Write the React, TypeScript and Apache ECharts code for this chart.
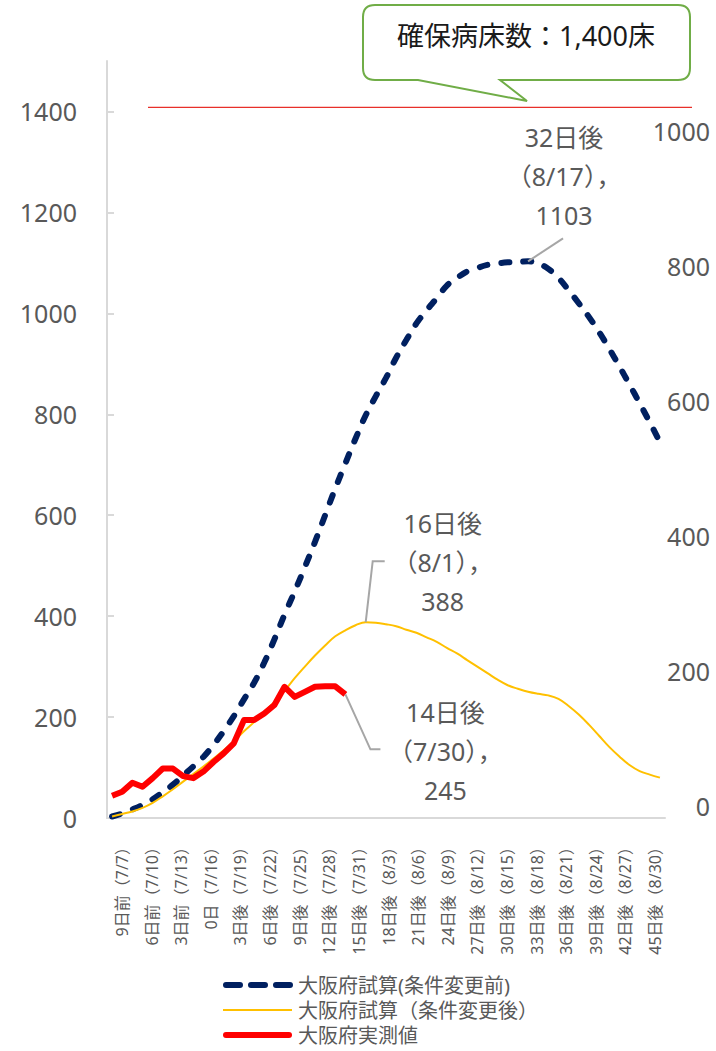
import React, { useEffect, useRef } from "react";
import * as echarts from "echarts";

const FONT = "'Noto Sans', 'Noto Sans CJK JP', sans-serif";

// Day offsets from 7/16 (0日): 9日前 (7/7) ... 45日後 (8/30)
const dayOffsets: number[] = Array.from({ length: 55 }, (_, k) => k - 9);
const dayLabels: string[] = dayOffsets.map((d) => (d < 0 ? `${-d}日前` : d === 0 ? "0日" : `${d}日後`));
const dateLabels: string[] = dayOffsets.map((d) => {
  const dt = new Date(2020, 6, 16 + d);
  return `${dt.getMonth() + 1}/${dt.getDate()}`;
});
const categories: string[] = dayLabels.map((d, i) => `${d}（${dateLabels[i]}）`);

// 大阪府試算(条件変更前)
const projectionBefore: number[] = [
  3, 9, 17, 26, 37, 51, 66, 84, 102, 121,
  145, 172, 202, 235, 268, 308, 354, 403, 449, 497,
  547, 600, 653, 703, 752, 798, 836, 872, 912, 947,
  980, 1006, 1030, 1055, 1070, 1083, 1090, 1096, 1099, 1101,
  1102, 1103, 1099, 1088, 1070, 1046, 1020, 993, 963, 930,
  895, 859, 822, 784, 745,
];
// 大阪府試算（条件変更後）
const projectionAfter: number[] = [
  3, 8, 13, 20, 30, 43, 57, 72, 87, 102,
  118, 134, 152, 172, 190, 210, 230, 252, 277, 300,
  322, 342, 360, 372, 382, 388, 387, 384, 380, 373,
  367, 358, 349, 337, 326, 313, 300, 287, 274, 263,
  256, 250, 246, 243, 236, 222, 205, 185, 163, 141,
  122, 105, 93, 86, 80,
];
// 大阪府実測値
const actual: number[] = [
  44, 52, 70, 62, 79, 98, 98, 83, 79, 92,
  111, 128, 148, 194, 194, 207, 224, 260, 240, 250,
  260, 261, 261, 245,
];

const seriesNames = ["大阪府試算(条件変更前)", "大阪府試算（条件変更後）", "大阪府実測値"];
const leftTicks = [0, 200, 400, 600, 800, 1000, 1200, 1400];
const bedCapacity = 1400;

// annotated points: category index
const darkLabelIdx = 41; // 32日後 (8/17)
const yellowLabelIdx = 25; // 16日後 (8/1)
const redLabelIdx = 23; // 14日後 (7/30)

const GRAY = "#595959";
const AXIS = "#d9d9d9";
const plain = (v: number) => String(v);

export default function App() {
  const ref = useRef<HTMLDivElement>(null);
  useEffect(() => {
    if (!ref.current) return;
    const chart = echarts.init(ref.current, null, { renderer: "svg" });
    chart.setOption({
      animation: false,
      backgroundColor: "#ffffff",
      textStyle: { fontFamily: FONT },
      grid: [
        { left: 107, right: 51, top: 61, height: 757 },
        { left: 107, right: 49, top: 131, height: 675 },
        { left: 122, right: 61, top: 61, height: 757 },
      ],
      xAxis: [
        {
          type: "category",
          gridIndex: 0,
          data: categories,
          boundaryGap: true,
          axisLine: { show: true, lineStyle: { color: AXIS, width: 2 } },
          axisTick: { show: false },
          axisLabel: { show: false },
          splitLine: { show: false },
        },
        {
          type: "category",
          gridIndex: 1,
          data: categories,
          show: false,
        },
        {
          type: "category",
          gridIndex: 2,
          data: categories,
          boundaryGap: false,
          axisLine: { show: false },
          axisTick: { show: false },
          splitLine: { show: false },
          axisLabel: {
            interval: 2,
            rotate: 90,
            margin: 21,
            fontSize: 16,
            color: GRAY,
            fontFamily: FONT,
          },
        },
      ],
      yAxis: [
        {
          type: "value",
          gridIndex: 0,
          min: 0,
          max: 1500,
          interval: 100,
          axisLine: { show: true, lineStyle: { color: AXIS, width: 2 } },
          axisTick: { show: true, inside: true, length: 7, lineStyle: { color: AXIS, width: 2 }, customValues: leftTicks },
          axisLabel: { margin: 30, fontSize: 25, color: GRAY, fontFamily: FONT, customValues: leftTicks, formatter: plain },
          splitLine: { show: false },
        },
        {
          type: "value",
          gridIndex: 1,
          position: "right",
          min: 0,
          max: 1000,
          interval: 200,
          axisLine: { show: false },
          axisTick: { show: false },
          splitLine: { show: false },
          axisLabel: { margin: 43, align: "right", fontSize: 25, color: GRAY, fontFamily: FONT, formatter: plain },
        },
        {
          type: "value",
          gridIndex: 2,
          show: false,
          min: 0,
          max: 1500,
        },
      ],
      series: [
        {
          name: seriesNames[0],
          type: "line",
          xAxisIndex: 0,
          yAxisIndex: 0,
          data: projectionBefore,
          smooth: 0.4,
          symbol: "none",
          lineStyle: { color: "#002060", width: 6, type: [8, 14], cap: "round" },
          z: 2,
        },
        {
          name: seriesNames[1],
          type: "line",
          xAxisIndex: 0,
          yAxisIndex: 0,
          data: projectionAfter,
          smooth: 0.4,
          symbol: "none",
          lineStyle: { color: "#FFC000", width: 2 },
          z: 3,
        },
        {
          name: seriesNames[2],
          type: "line",
          xAxisIndex: 0,
          yAxisIndex: 0,
          data: actual,
          symbol: "none",
          lineStyle: { color: "#FF0000", width: 6, join: "round" },
          z: 4,
        },
      ],
    });

    const toPx = (i: number, v: number): number[] =>
      chart.convertToPixel({ seriesIndex: 0 }, [i, v]) as number[];

    const labelText = (idx: number, value: number) =>
      `${dayLabels[idx]}\n（${dateLabels[idx]}），\n${value}`;

    const textEl = (
      x: number,
      y: number,
      text: string,
      size: number,
      fill: string,
      align = "center",
      lineHeight = 39
    ) => ({
      type: "text",
      x,
      y,
      z: 20,
      silent: true,
      style: {
        text,
        fill,
        fontSize: size,
        fontFamily: FONT,
        align,
        textAlign: align,
        verticalAlign: "middle",
        textVerticalAlign: "middle",
        lineHeight,
      },
    });
    const leader = (pts: number[][]) => ({
      type: "polyline",
      z: 15,
      silent: true,
      shape: { points: pts },
      style: { stroke: "#A6A6A6", lineWidth: 2, fill: "none" },
    });

    const pd = toPx(darkLabelIdx, projectionBefore[darkLabelIdx]);
    const py = toPx(yellowLabelIdx, projectionAfter[yellowLabelIdx]);
    const pr = toPx(redLabelIdx, actual[redLabelIdx]);
    const capY = toPx(0, bedCapacity)[1] - 4;

    echarts.graphic.registerShape(
      "callout",
      echarts.graphic.extendPath(
        "M375,5 H678 Q690,5 690,17 V68 Q690,80 678,80 H500 L527,101 L418,80 H375 Q363,80 363,68 V17 Q363,5 375,5 Z",
        {}
      )
    );

    const legendRows = [985, 1010, 1035];

    chart.setOption({
      graphic: {
        elements: [
          {
            type: "line",
            z: 5,
            silent: true,
            shape: { x1: 148, y1: capY, x2: 692, y2: capY },
            style: { stroke: "#E8302A", lineWidth: 1.2 },
          },
          {
            type: "callout",
            x: 0,
            y: 0,
            z: 10,
            silent: true,
            style: { fill: "#ffffff", stroke: "#70AD47", lineWidth: 2 },
          },
          textEl(526, 35, `確保病床数：${bedCapacity.toLocaleString("en-US")}床`, 27, "#1a1a1a"),
          leader([pd, [pd[0] + 35, pd[1] - 23]]),
          textEl(pd[0] + 36, pd[1] - 85, labelText(darkLabelIdx, projectionBefore[darkLabelIdx]), 25, GRAY),
          leader([py, [py[0] + 7, py[1] - 61], [py[0] + 19, py[1] - 61]]),
          textEl(py[0] + 77, py[1] - 60, labelText(yellowLabelIdx, projectionAfter[yellowLabelIdx]), 25, GRAY),
          leader([pr, [pr[0] + 25, pr[1] + 55], [pr[0] + 35, pr[1] + 55]]),
          textEl(pr[0] + 100, pr[1] + 57, labelText(redLabelIdx, actual[redLabelIdx]), 25, GRAY),
          {
            type: "line",
            silent: true,
            shape: { x1: 226, y1: legendRows[0], x2: 290, y2: legendRows[0] },
            style: { stroke: "#002060", lineWidth: 6, lineDash: [14, 11], lineCap: "round" },
          },
          textEl(298, legendRows[0], seriesNames[0], 20, GRAY, "left", 21),
          {
            type: "line",
            silent: true,
            shape: { x1: 223, y1: legendRows[1], x2: 292, y2: legendRows[1] },
            style: { stroke: "#FFC000", lineWidth: 2 },
          },
          textEl(298, legendRows[1], seriesNames[1], 20, GRAY, "left", 21),
          {
            type: "line",
            silent: true,
            shape: { x1: 226, y1: legendRows[2], x2: 289, y2: legendRows[2] },
            style: { stroke: "#FF0000", lineWidth: 6, lineCap: "round" },
          },
          textEl(298, legendRows[2], seriesNames[2], 20, GRAY, "left", 21),
        ],
      },
    });

    return () => chart.dispose();
  }, []);

  return (
    <div
      ref={ref}
      style={{ position: "absolute", left: 0, top: 0, width: 716, height: 1051, background: "#ffffff" }}
    />
  );
}
